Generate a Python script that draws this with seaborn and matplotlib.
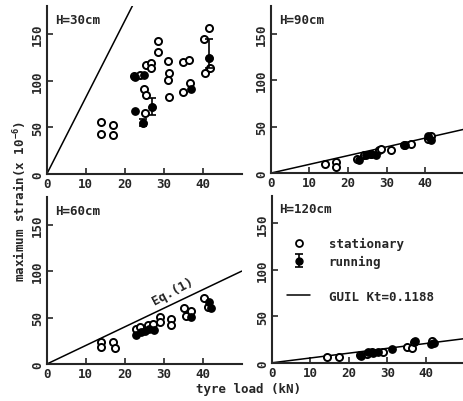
import matplotlib
matplotlib.use("Agg")
import matplotlib.pyplot as plt
from matplotlib.lines import Line2D
import seaborn as sns
import pandas as pd
import numpy as np

"""
Data read off the figure (tyre load kN, max strain x1e-6).
"""

panel_titles = ["H=30cm", "H=90cm", "H=60cm", "H=120cm"]
line_slopes = [8.2, 0.94, 2.0, 0.52]   # theoretical line (GUIL / Eq.(1)), strain per kN

# H=30cm
stat_x_30 = [13.9, 13.9, 16.9, 16.9, 22.3, 23.8, 25.5, 26.8, 26.8, 25.0, 25.5, 25.3,
             28.5, 28.5, 31.0, 31.3, 31.0, 31.3, 34.9, 36.4, 35.0, 36.6, 40.4, 41.5, 40.6, 41.9]
stat_y_30 = [56, 43, 52, 42, 105, 106, 117, 119, 113, 91, 85, 65,
             142, 131, 121, 108, 101, 82, 120, 122, 88, 97, 145, 156, 108, 113]
run_x_30 = [22.6, 24.8, 22.7, 24.7, 27.1, 37.0, 41.6]
run_y_30 = [104, 106, 67, 55, 72, 91, 124]

# H=90cm
stat_x_90 = [13.9, 16.8, 16.8, 22.4, 24.2, 25.9, 28.0, 28.5, 31.1, 34.6, 36.3, 40.7, 41.6]
stat_y_90 = [10, 12, 6.5, 15.6, 19, 21, 24.6, 26.4, 24.6, 30, 31, 37, 40]
run_x_90 = [22.9, 24.6, 25.9, 27.2, 34.8, 40.9, 41.6]
run_y_90 = [13.8, 19, 20, 19, 30, 40, 35.5]

# H=60cm
stat_x_60 = [13.9, 13.9, 16.9, 17.6, 22.9, 23.8, 25.9, 27.2, 28.9, 28.9, 31.9, 31.9,
             35.3, 35.7, 37.0, 40.4, 41.3]
stat_y_60 = [23.5, 18, 24, 17, 38, 40, 42, 43.5, 50.7, 45, 48, 41.7,
             60.5, 52, 57, 70.7, 61.6]
run_x_60 = [22.9, 24.2, 25.3, 26.3, 27.6, 37.0, 41.7, 42.1]
run_y_60 = [30.8, 34, 36, 38, 37, 50.7, 67, 60]

# H=120cm
stat_x_120 = [14.3, 17.3, 22.8, 24.6, 25.9, 28.9, 35.1, 36.4, 36.8, 41.7]
stat_y_120 = [6, 6, 8, 9.8, 11.6, 11.6, 17, 16, 22.5, 24]
run_x_120 = [23.2, 25.0, 26.3, 27.6, 31.1, 37.1, 42.1, 41.2]
run_y_120 = [7, 11.6, 10.9, 11.6, 15, 24, 21.7, 20.6]

# error bars on running points (H=30cm only visible)
err_x_30 = [24.7, 27.1, 41.6]
err_y_30 = [55, 72, 124]
err_lo_30 = [4, 9, 11]
err_hi_30 = [4, 9, 21]

stat_x = [stat_x_30, stat_x_90, stat_x_60, stat_x_120]
stat_y = [stat_y_30, stat_y_90, stat_y_60, stat_y_120]
run_x = [run_x_30, run_x_90, run_x_60, run_x_120]
run_y = [run_y_30, run_y_90, run_y_60, run_y_120]

"""
Do the plotting.
"""

sns.set_style("ticks")
plt.rcParams["font.family"] = ["DejaVu Sans Mono"]
plt.rcParams["font.weight"] = "bold"
plt.rcParams["mathtext.default"] = "regular"
FS = 9

fig = plt.figure(figsize=(4.64, 4.02), dpi=100)
positions = [
    [0.101, 0.565, 0.420, 0.418],
    [0.584, 0.567, 0.415, 0.416],
    [0.101, 0.092, 0.420, 0.416],
    [0.586, 0.095, 0.415, 0.416],
]

axes = []
for i, pos in enumerate(positions):
    ax = fig.add_axes(pos)
    axes.append(ax)
    sdf = pd.DataFrame({"load": stat_x[i], "strain": stat_y[i]})
    rdf = pd.DataFrame({"load": run_x[i], "strain": run_y[i]})
    sns.scatterplot(data=sdf, x="load", y="strain", ax=ax, marker="o", s=26,
                    facecolor="white", edgecolor="black", linewidth=1.4, zorder=3)
    sns.scatterplot(data=rdf, x="load", y="strain", ax=ax, marker="o", s=28,
                    color="black", edgecolor="black", linewidth=1.0, zorder=4)
    xs = np.array([0, 50])
    ax.plot(xs, line_slopes[i] * xs, color="black", lw=1.1, zorder=2)

    ax.set_xlim(0, 50)
    ax.set_ylim(0, 180)
    ax.set_xticks([0, 10, 20, 30, 40])
    ax.set_yticks([0, 50, 100, 150])
    ax.set_xlabel("")
    ax.set_ylabel("")
    sns.despine(ax=ax)
    for sp in ["left", "bottom"]:
        ax.spines[sp].set_linewidth(1.5)
    ax.tick_params(direction="in", length=4, width=1.2, labelsize=FS, pad=2)
    for lab in ax.get_yticklabels():
        lab.set_rotation(90)
        lab.set_va("center")
        lab.set_fontweight("bold")
    for lab in ax.get_xticklabels():
        lab.set_fontweight("bold")
    ax.text(0.04, 0.92, panel_titles[i], transform=ax.transAxes, fontsize=FS,
            fontweight="bold", va="center", ha="left")

# error bars on the H=30cm running points
eb = axes[0].errorbar(err_x_30, err_y_30, yerr=[err_lo_30, err_hi_30], fmt="o",
                      color="black", ms=5, capsize=3, elinewidth=1.2, capthick=1.2, zorder=5)

# Eq.(1) annotation
axes[2].text(32.3, 79, "Eq.(1)", fontsize=FS, fontweight="bold", rotation=28,
             ha="center", va="center")

# legend in H=120cm panel
h_stat = Line2D([], [], ls="none", marker="o", mfc="white", mec="black", ms=5, mew=1.3)
h_blank = Line2D([], [], ls="none", color="none")
h_line = Line2D([], [], color="black", lw=1.1)
axes[3].legend([h_stat, eb, h_blank, h_line],
               ["stationary", "running", "", "GUIL Kt=0.1188"],
               loc="upper left", bbox_to_anchor=(0.08, 0.75), frameon=False,
               borderpad=0, borderaxespad=0, handlelength=1.8, handletextpad=1.5,
               labelspacing=0.35, prop={"size": FS, "weight": "bold"})

fig.text(0.043, 0.50, "maximum strain(x 10$^{-6}$)", rotation=90, fontsize=FS,
         fontweight="bold", ha="center", va="center")
fig.text(0.535, 0.032, "tyre load (kN)", fontsize=FS, fontweight="bold",
         ha="center", va="center")

plt.savefig("out.png", dpi=100)
plt.close()
